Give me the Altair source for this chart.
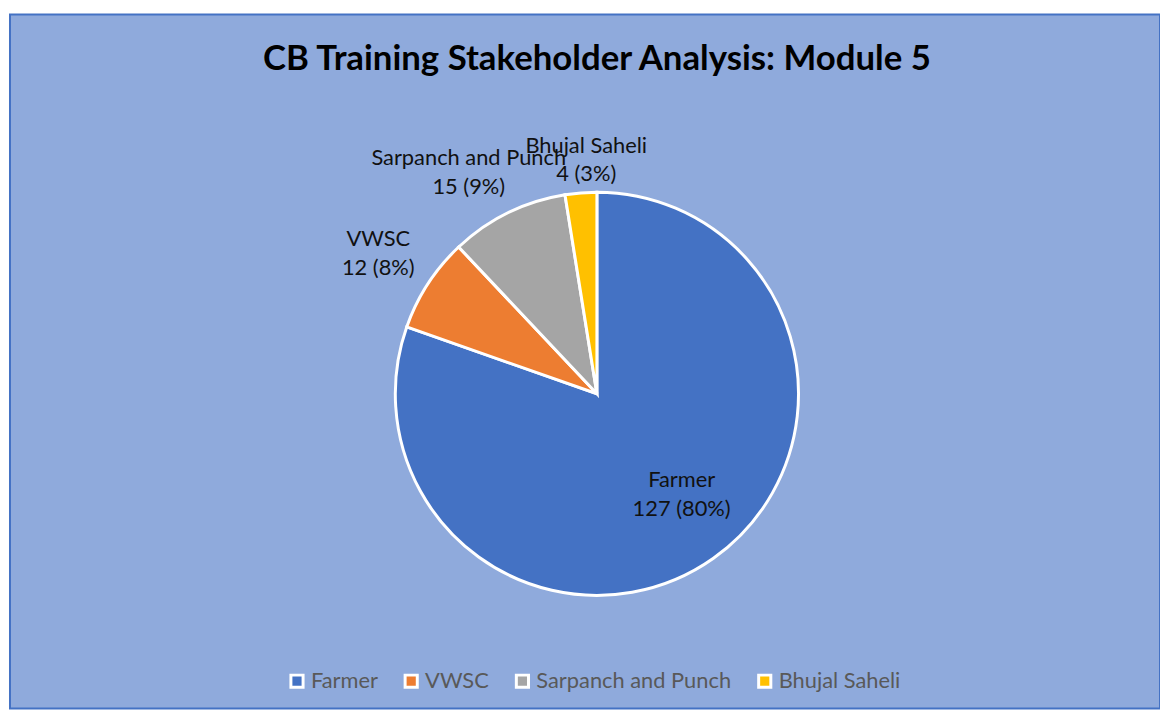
import altair as alt
import pandas as pd

categories = ["Farmer", "VWSC", "Sarpanch and Punch", "Bhujal Saheli"]
values = [127, 12, 15, 4]
colors = ["#4472C4", "#ED7D31", "#A5A5A5", "#FFC000"]

total = sum(values)
df = pd.DataFrame({
    "category": categories,
    "value": values,
    "idx": list(range(len(categories))),
})
df["pct"] = [round(v * 100 / total) for v in values]
df["label"] = [f"{c}\n{v} ({p}%)" for c, v, p in zip(df["category"], df["value"], df["pct"])]

CX, CY, R = 591, 382, 203
LH = 29
# label placement (radius from centre, plus small nudges)
label_pos = {
    "Farmer": (132, 9, -6),
    "VWSC": (259, -3, 0),
    "Sarpanch and Punch": (256, -16, 7),
    "Bhujal Saheli": (236, 8, 0),
}

base = alt.Chart(df).encode(
    theta=alt.Theta("value:Q", stack=True),
    order=alt.Order("idx:Q", sort="ascending"),
)

pie = base.mark_arc(radius=R, stroke="white", strokeWidth=3).encode(
    x=alt.value(CX),
    y=alt.value(CY),
    color=alt.Color(
        "category:N",
        scale=alt.Scale(domain=categories, range=colors),
        sort=categories,
        legend=alt.Legend(
            title=None,
            orient="none",
            direction="horizontal",
            columns=4,
            legendX=278,
            legendY=660,
            symbolType="square",
            symbolSize=150,
            symbolStrokeColor="white",
            symbolStrokeWidth=3,
            labelFont="Lato",
            labelFontSize=22,
            labelColor="#595959",
            labelLimit=400,
            columnPadding=20,
            symbolOffset=0,
            labelOffset=3,
        ),
    ),
)

layers = [pie]
for cat in categories:
    r, ddx, ddy = label_pos[cat]
    layers.append(
        base.mark_text(
            radius=r,
            font="Lato",
            fontSize=22,
            color="#111111",
            lineBreak="\n",
            lineHeight=LH,
            align="center",
            baseline="middle",
            dx=ddx,
            dy=-LH / 2 + ddy,
        ).encode(
            x=alt.value(CX),
            y=alt.value(CY),
            text="label:N",
            opacity=alt.condition(alt.datum.category == cat, alt.value(1), alt.value(0)),
        )
    )

chart = alt.layer(*layers).properties(
    width=1160,
    height=703,
    background="white",
    autosize=alt.AutoSizeParams(type="fit", contains="padding"),
    padding={"left": 2, "top": 4, "right": 0, "bottom": 0},
    title=alt.TitleParams(
        "CB Training Stakeholder Analysis: Module 5",
        font="Lato",
        fontSize=35,
        fontWeight="bold",
        color="#000000",
        anchor="middle",
        frame="group",
        offset=-63,
        dx=12,
    ),
).configure_view(
    fill="#8FAADC",
    stroke="#4472C4",
    strokeWidth=2,
)

chart.save("out.html", embed_options={"renderer": "svg", "actions": False})
